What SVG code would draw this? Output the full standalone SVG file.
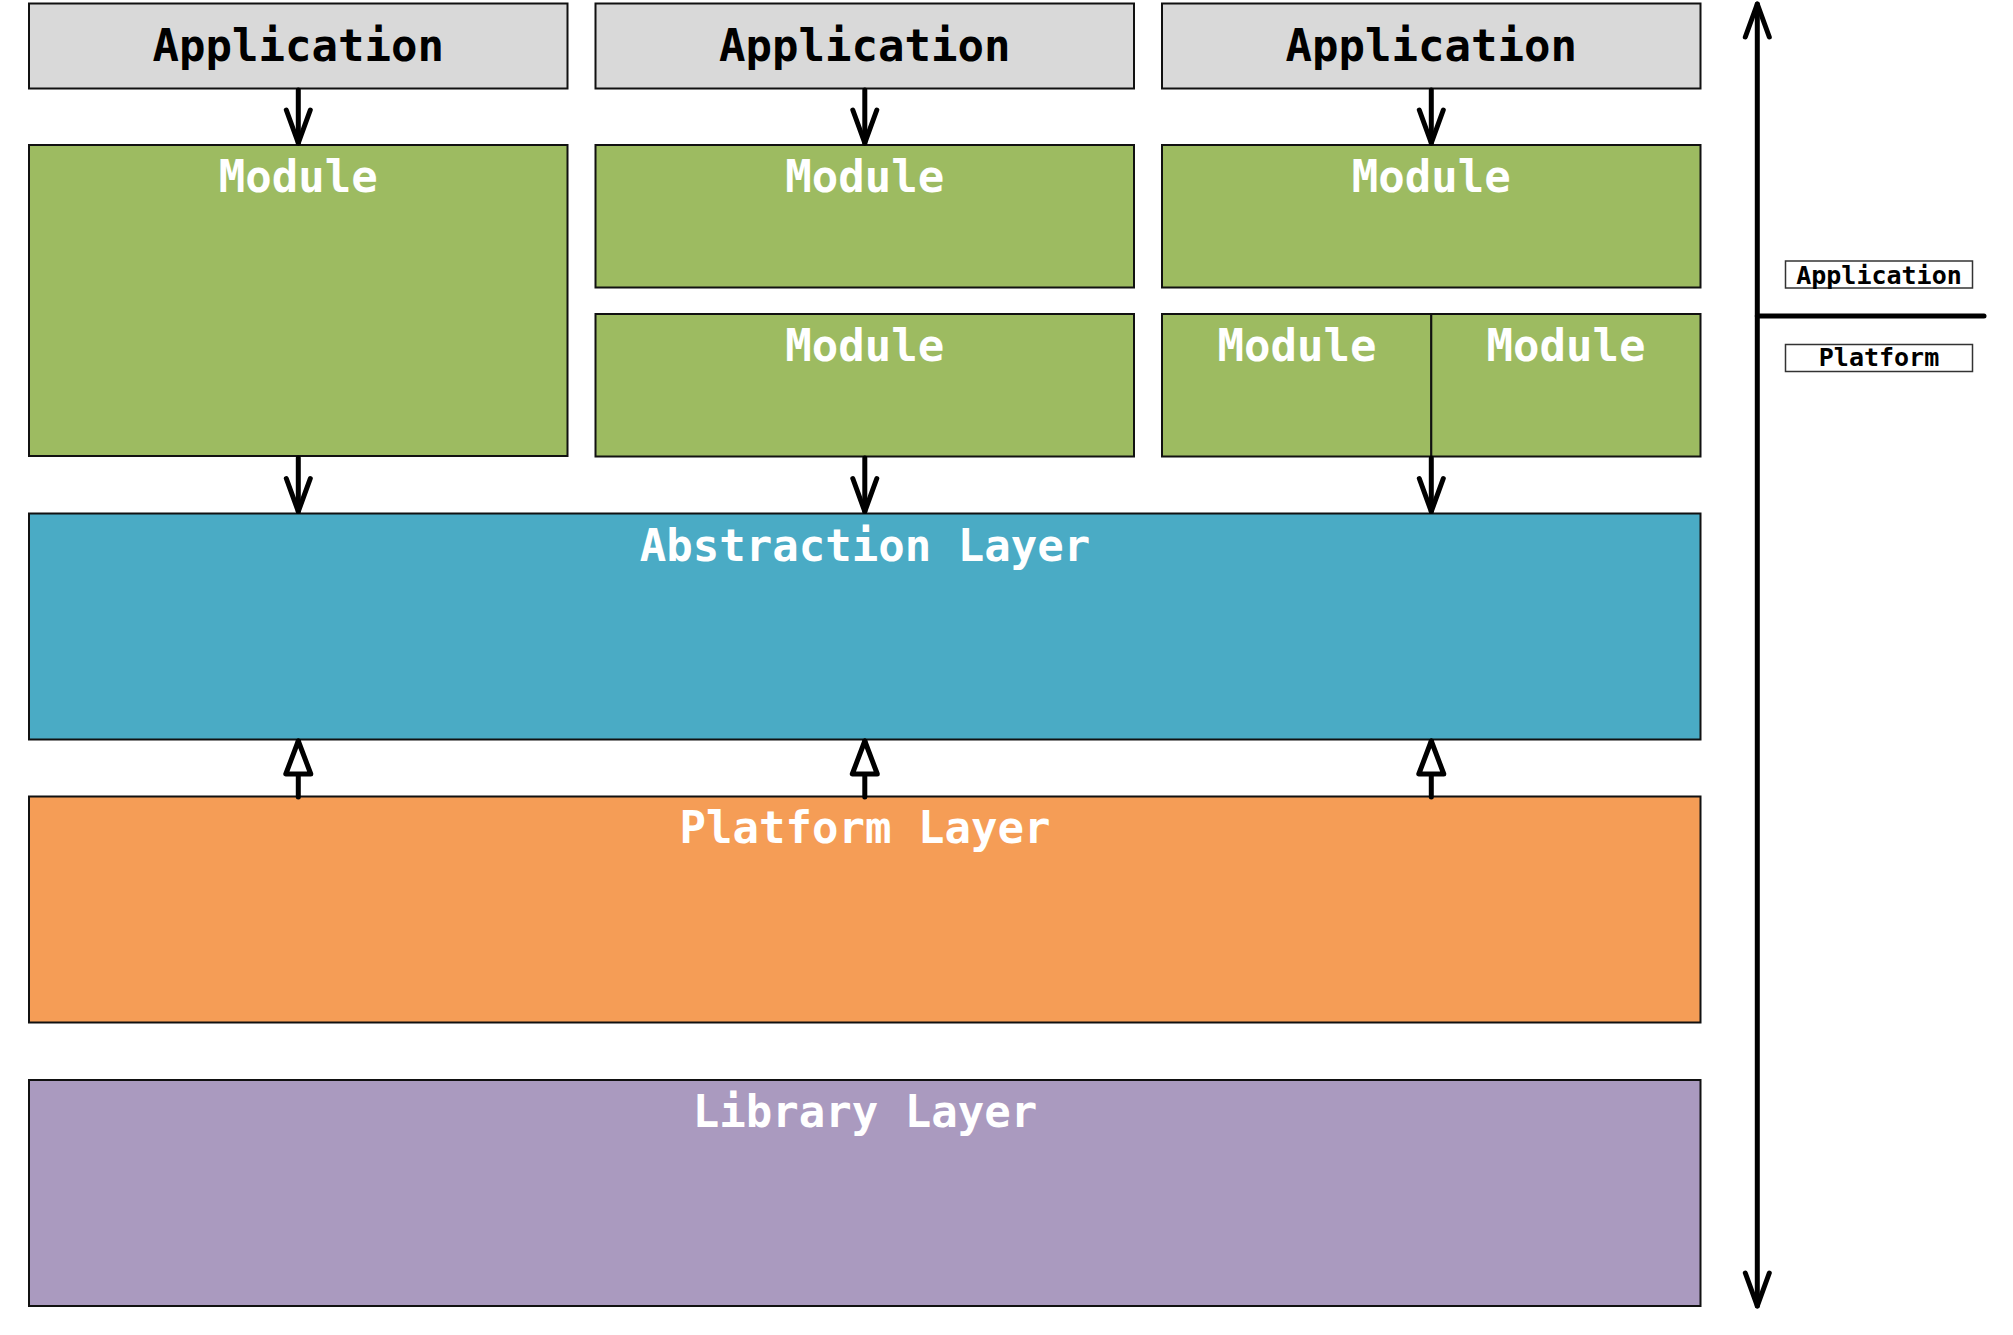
<svg xmlns="http://www.w3.org/2000/svg" width="2013" height="1335" viewBox="0 0 2013 1335">
<style>
.box{stroke:#111;stroke-width:2}
.app{fill:#d9d9d9}
.mod{fill:#9dbb61}
.abs{fill:#4aabc5}
.plat{fill:#f59d56}
.lib{fill:#aa9abf}
.t{font-family:"DejaVu Sans Mono","Liberation Mono",monospace;font-weight:bold;font-size:44px;text-anchor:middle}
.dark{fill:#000}
.light{fill:#fff}
.small{font-family:"DejaVu Sans Mono","Liberation Mono",monospace;font-weight:bold;font-size:25px;text-anchor:middle;fill:#000}
.lbl{fill:#fff;stroke:#333;stroke-width:1.5}
.c{stroke:#000;stroke-width:5;stroke-linecap:round;fill:none}
</style>
<defs>
<marker id="open" markerUnits="userSpaceOnUse" viewBox="-40 -16 44 32" refX="0" refY="0" markerWidth="44" markerHeight="32" orient="auto-start-reverse" overflow="visible">
<path d="M-33,-12 L0,0 L-33,12" fill="none" stroke="#000" stroke-width="5" stroke-linecap="round" stroke-linejoin="round"/>
</marker>
<marker id="tri" markerUnits="userSpaceOnUse" viewBox="-40 -16 44 32" refX="0" refY="0" markerWidth="44" markerHeight="32" orient="auto" overflow="visible">
<path d="M0,0 L-33,-12.5 L-33,12.5 Z" fill="#fff" stroke="#000" stroke-width="5" stroke-linejoin="round"/>
</marker>
</defs>
<rect width="2013" height="1335" fill="#fff"/>

<g id="app1"><rect class="box app" x="29" y="3.5" width="538.5" height="85"/><text class="t dark" x="298.3" y="61">Application</text></g>
<g id="app2"><rect class="box app" x="595.5" y="3.5" width="538.5" height="85"/><text class="t dark" x="864.8" y="61">Application</text></g>
<g id="app3"><rect class="box app" x="1162" y="3.5" width="538.5" height="85"/><text class="t dark" x="1431.3" y="61">Application</text></g>

<g id="mod1"><rect class="box mod" x="29" y="145" width="538.5" height="311"/><text class="t light" x="298.3" y="192">Module</text></g>
<g id="mod2a"><rect class="box mod" x="595.5" y="145" width="538.5" height="142.5"/><text class="t light" x="864.8" y="192">Module</text></g>
<g id="mod2b"><rect class="box mod" x="595.5" y="314" width="538.5" height="142.5"/><text class="t light" x="864.8" y="361">Module</text></g>
<g id="mod3a"><rect class="box mod" x="1162" y="145" width="538.5" height="142.5"/><text class="t light" x="1431.3" y="192">Module</text></g>
<g id="mod3b"><rect class="box mod" x="1162" y="314" width="269.3" height="142.5"/><text class="t light" x="1297" y="361">Module</text></g>
<g id="mod3c"><rect class="box mod" x="1431.3" y="314" width="269.2" height="142.5"/><text class="t light" x="1566" y="361">Module</text></g>

<g id="abstraction"><rect class="box abs" x="29" y="513.5" width="1671.5" height="226"/><text class="t light" x="865" y="561">Abstraction Layer</text></g>
<g id="platform"><rect class="box plat" x="29" y="796.5" width="1671.5" height="226"/><text class="t light" x="865" y="843">Platform Layer</text></g>
<g id="library"><rect class="box lib" x="29" y="1080" width="1671.5" height="226"/><text class="t light" x="865" y="1127">Library Layer</text></g>

<g id="legend-application"><rect class="lbl" x="1785.5" y="261" width="187" height="27"/><text class="small" x="1879" y="283.5">Application</text></g>
<g id="legend-platform"><rect class="lbl" x="1785.5" y="344.5" width="187" height="27"/><text class="small" x="1879" y="366">Platform</text></g>

<g id="connectors">
<line class="c" x1="298.3" y1="90" x2="298.3" y2="143" marker-end="url(#open)"/>
<line class="c" x1="864.8" y1="90" x2="864.8" y2="143" marker-end="url(#open)"/>
<line class="c" x1="1431.3" y1="90" x2="1431.3" y2="143" marker-end="url(#open)"/>
<line class="c" x1="298.3" y1="458" x2="298.3" y2="511.5" marker-end="url(#open)"/>
<line class="c" x1="864.8" y1="458" x2="864.8" y2="511.5" marker-end="url(#open)"/>
<line class="c" x1="1431.3" y1="458" x2="1431.3" y2="511.5" marker-end="url(#open)"/>
<line class="c" x1="298.3" y1="797" x2="298.3" y2="741" marker-end="url(#tri)"/>
<line class="c" x1="864.8" y1="797" x2="864.8" y2="741" marker-end="url(#tri)"/>
<line class="c" x1="1431.3" y1="797" x2="1431.3" y2="741" marker-end="url(#tri)"/>
<line class="c" x1="1757.3" y1="1306" x2="1757.3" y2="4" marker-start="url(#open)" marker-end="url(#open)"/>
<line class="c" x1="1757.3" y1="316" x2="1984" y2="316"/>
</g>
</svg>
